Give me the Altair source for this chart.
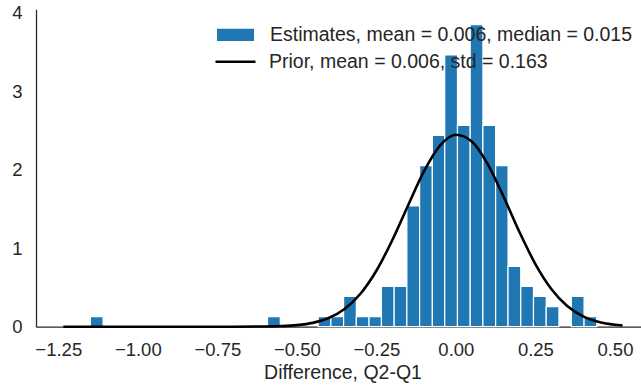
import altair as alt
import pandas as pd

# Histogram bins (density)
bin_left = [-1.149, -0.592, -0.433, -0.393, -0.353, -0.313, -0.273, -0.234, -0.194,
            -0.154, -0.114, -0.074, -0.035, 0.005, 0.045, 0.085, 0.125, 0.164, 0.204,
            0.244, 0.284, 0.363, 0.403]
bin_right = [-1.109, -0.552, -0.393, -0.353, -0.313, -0.273, -0.234, -0.194, -0.154,
             -0.114, -0.074, -0.035, 0.005, 0.045, 0.085, 0.125, 0.164, 0.204, 0.244,
             0.284, 0.324, 0.403, 0.443]
density = [0.128, 0.128, 0.128, 0.128, 0.385, 0.128, 0.128, 0.513, 0.513,
           1.538, 2.051, 2.436, 3.462, 2.564, 3.846, 2.564, 2.051, 0.769, 0.513,
           0.385, 0.256, 0.385, 0.128]

# Prior curve
prior_x = [-1.234, -1.0, -0.8, -0.7, -0.6, -0.55, -0.5, -0.45, -0.4, -0.35, -0.3, -0.25,
           -0.2, -0.15, -0.1, -0.05, 0.0, 0.05, 0.1, 0.15, 0.2, 0.25, 0.3, 0.35, 0.4,
           0.45, 0.5, 0.524]
prior_y = [0.0, 0.0, 0.0, 0.0002, 0.0024, 0.0073, 0.0198, 0.0488, 0.110, 0.2253, 0.420,
           0.713, 1.101, 1.548, 1.981, 2.307, 2.445, 2.359, 2.072, 1.656, 1.205, 0.798,
           0.481, 0.264, 0.132, 0.0599, 0.0248, 0.0157]

est_label = "Estimates, mean = 0.006, median = 0.015"
prior_label = "Prior, mean = 0.006, std = 0.163"
x_ticks = [-1.25, -1.0, -0.75, -0.5, -0.25, 0.0, 0.25, 0.5]
y_ticks = [0, 1, 2, 3, 4]

FONT = "Liberation Sans"
TXT = "#262626"

hist_df = pd.DataFrame({"left": bin_left, "right": bin_right, "density": density,
                        "series": [est_label] * len(bin_left)})
prior_df = pd.DataFrame({"x": prior_x, "y": prior_y, "series": [prior_label] * len(prior_x)})

xscale = alt.Scale(domain=[-1.320, 0.582], nice=False, zero=False)
yscale = alt.Scale(domain=[0, 4.043], nice=False)

bars = alt.Chart(hist_df).mark_bar(stroke="white", strokeWidth=1.2).encode(
    x=alt.X("left:Q", scale=xscale,
            axis=alt.Axis(values=x_ticks, format=".2f", title="Difference, Q2-Q1",
                          titleX=306.5, titleY=52, titleBaseline="alphabetic",
                          titleAlign="center", labelPadding=14)),
    x2="right:Q",
    y=alt.Y("density:Q", scale=yscale,
            axis=alt.Axis(values=y_ticks, format="d", title=None, labelPadding=14)),
    y2=alt.datum(0),
    fill=alt.Fill("series:N",
                  scale=alt.Scale(domain=[est_label], range=["#1f77b4"]),
                  legend=alt.Legend(orient="none", legendX=181, legendY=7, title=None,
                                    symbolType="M-1,-0.33L1,-0.33L1,0.33L-1,0.33Z",
                                    symbolSize=1369, symbolStrokeWidth=0,
                                    labelOffset=16, padding=0)),
)

line = alt.Chart(prior_df).mark_line(strokeWidth=2.6, interpolate="monotone").encode(
    x=alt.X("x:Q", scale=xscale),
    y=alt.Y("y:Q", scale=yscale),
    stroke=alt.Stroke("series:N",
                      scale=alt.Scale(domain=[prior_label], range=["black"]),
                      legend=alt.Legend(orient="none", legendX=178, legendY=31, title=None,
                                        symbolType="stroke", symbolSize=1600,
                                        symbolStrokeWidth=2.6, labelOffset=12,
                                        padding=0)),
)

chart = alt.layer(bars, line).resolve_scale(fill="independent", stroke="independent").properties(
    width=605, height=317.4,
    autosize=alt.AutoSizeParams(type="none"),
    padding={"left": 36, "top": 9.3, "right": 0, "bottom": 63.3},
).configure_view(stroke=None).configure_axis(
    grid=False, ticks=False, tickSize=0,
    labelFont=FONT, labelFontSize=18.5, labelColor=TXT,
    titleFont=FONT, titleFontSize=19.5, titleColor=TXT, titleFontWeight="normal",
    domainColor=TXT, domainWidth=1.25,
).configure_legend(
    labelFont=FONT, labelFontSize=19.5, labelColor=TXT, labelLimit=0,
)

chart.save("out.html", embed_options={"renderer": "svg", "actions": False})
